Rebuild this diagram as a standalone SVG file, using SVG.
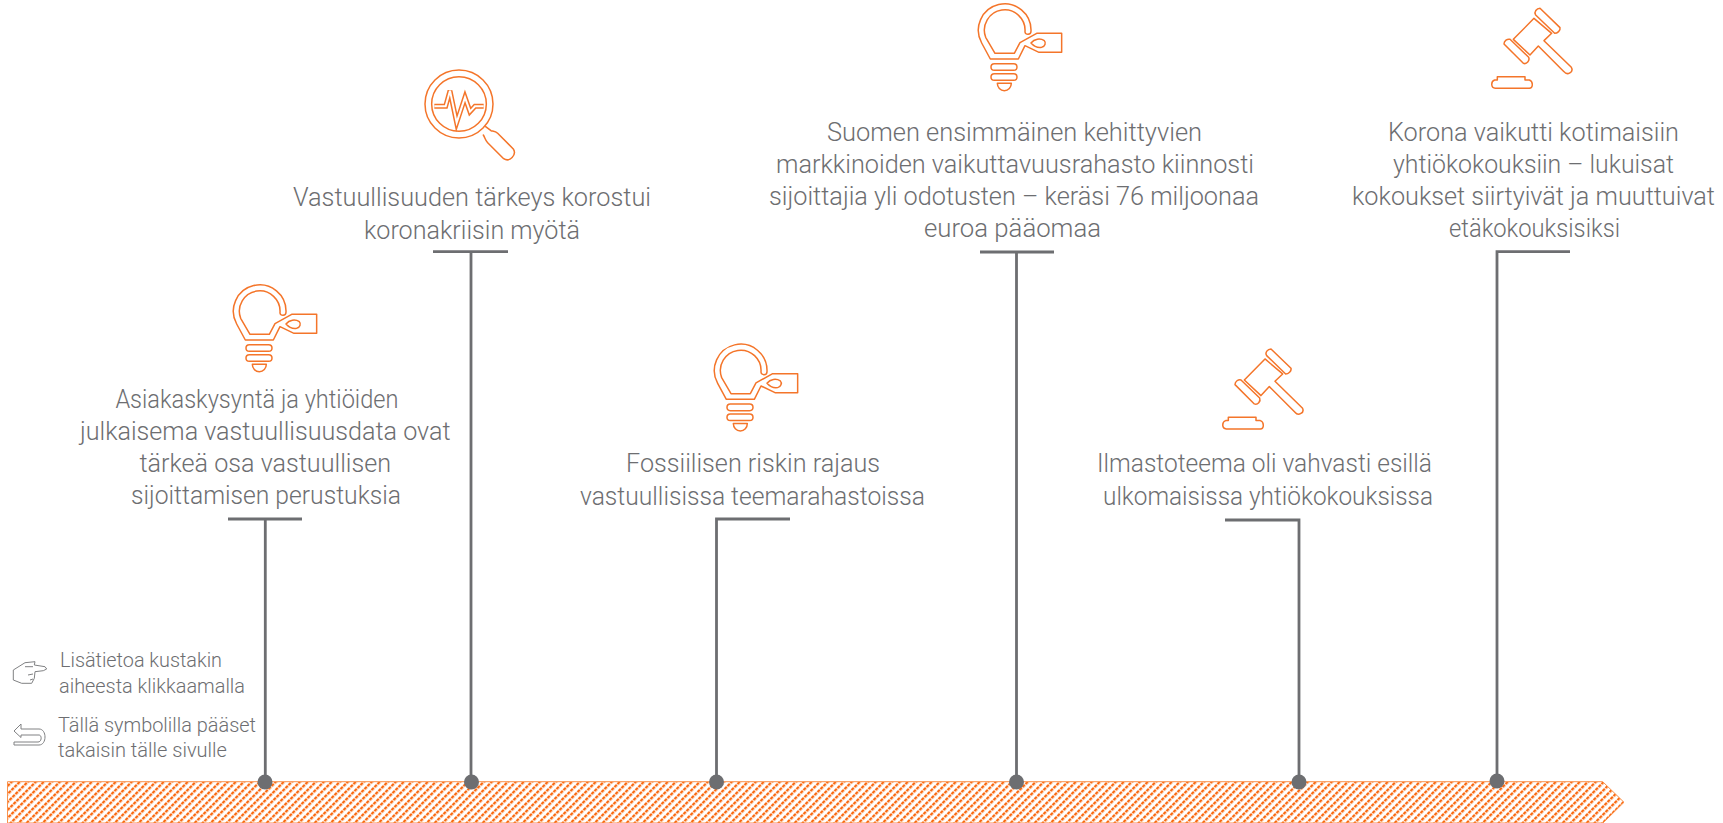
<svg xmlns="http://www.w3.org/2000/svg" xmlns:xlink="http://www.w3.org/1999/xlink" width="1723" height="823" viewBox="0 0 1723 823">
<style>
text{font-family:"Roboto","Open Sans","Liberation Sans",sans-serif;font-weight:300;fill:#6d6e71}
.t{font-size:26px}
.s{font-size:19.500px}
.ico{fill:none;stroke:#f4752a;stroke-width:4.500;stroke-linejoin:round;stroke-linecap:round}
.ln{fill:none;stroke:#6d6e71;stroke-width:2.800}
.dot{fill:#6d6e71}
.hint{fill:none;stroke:#808183;stroke-width:1}
</style>
<defs>
<pattern id="hatch" width="5.657" height="4.243" patternUnits="userSpaceOnUse" patternTransform="rotate(45)">
<rect width="5.657" height="4.243" fill="#fff"/><rect width="2.300" height="3.300" fill="#f96a12"/>
</pattern>
<g id="bulb" class="ico">
<path d="M180 113A61 61 0 1 0 62 130L90 178H148L165 146L215 118H290V175H222L180 155L160 195H76L50 147A79 79 0 1 1 198 112C198 124 180 124 180 113Z"/>
<path d="M198 147C208 134 226 132 238 140C244 146 240 158 230 160C218 162 206 156 198 147Z"/>
<rect x="78" y="209" width="78" height="20" rx="10"/>
<rect x="78" y="239" width="78" height="20" rx="10"/>
<path d="M97 268H139C139 280 130 290 118 290C106 290 97 280 97 268Z"/>
</g>
<g id="gavel" class="ico">
<path d="M162 55L100 118L150 165L175 138L252 215C262 228 282 216 274 202L192 122L215 100Z"/>
<path d="M180 25L240 83C242 92 232 100 224 100L167 45C161 36 170 25 180 25Z"/>
<path d="M90 118L146 172C150 182 140 194 130 190L72 132C72 122 82 116 90 118Z"/>
<path d="M52 230H135V240H148C160 244 160 264 148 265H46C32 264 32 244 44 240H52Z"/>
</g>
</defs>
<g id="band"><path d="M7.500 781.700H1602.700L1624 802.300L1603 823H7.500Z" fill="url(#hatch)" stroke="#f9924d" stroke-width="1"/></g>
<g id="connectors">
<path class="ln" d="M228 519H302M265.300 519V782"/>
<path class="ln" d="M433 251.600H508M471 251.600V782"/>
<path class="ln" d="M790 519H716.500V782"/>
<path class="ln" d="M980 252H1054M1016.500 252V782"/>
<path class="ln" d="M1225 520H1299V782"/>
<path class="ln" d="M1570 251.600H1497V781"/>
<circle class="dot" cx="265" cy="782" r="7.500"/>
<circle class="dot" cx="471.500" cy="782" r="7.500"/>
<circle class="dot" cx="716.500" cy="782" r="7.500"/>
<circle class="dot" cx="1016.500" cy="782" r="7.500"/>
<circle class="dot" cx="1299" cy="782" r="7.500"/>
<circle class="dot" cx="1497" cy="781" r="7.500"/>
</g>
<g id="node1">
<use xlink:href="#bulb" href="#bulb" transform="translate(220 275) scale(.3333)"/>
<text class="t" x="115.400" y="408" textLength="283" lengthAdjust="spacingAndGlyphs">Asiakaskysyntä ja yhtiöiden</text>
<text class="t" x="80" y="440" textLength="370.500" lengthAdjust="spacingAndGlyphs">julkaisema vastuullisuusdata ovat</text>
<text class="t" x="139.500" y="472" textLength="251.500" lengthAdjust="spacingAndGlyphs">tärkeä osa vastuullisen</text>
<text class="t" x="131" y="504" textLength="270" lengthAdjust="spacingAndGlyphs">sijoittamisen perustuksia</text>
</g>
<g id="node2">
<g class="ico" transform="translate(415 60) scale(.3333)">
<circle cx="132" cy="132" r="102"/><circle cx="132" cy="132" r="82"/>
<path d="M212 200L228 212C236 214 242 214 248 220L295 267C306 284 284 308 266 296L218 248C210 240 210 232 205 225"/>
<path style="stroke-width:15;stroke-linejoin:miter;stroke-linecap:butt" d="M58 139H92L105 92L125 188L150 112L165 155L180 139H206"/>
<path style="stroke:#fff;stroke-width:6;stroke-linejoin:miter;stroke-linecap:butt" d="M58 139H92L105 92L125 188L150 112L165 155L180 139H206"/>
</g>
<text class="t" x="293" y="206" textLength="358" lengthAdjust="spacingAndGlyphs">Vastuullisuuden tärkeys korostui</text>
<text class="t" x="364" y="239" textLength="216" lengthAdjust="spacingAndGlyphs">koronakriisin myötä</text>
</g>
<g id="node3">
<use xlink:href="#bulb" href="#bulb" transform="translate(701 334.300) scale(.3333)"/>
<text class="t" x="626" y="472" textLength="254" lengthAdjust="spacingAndGlyphs">Fossiilisen riskin rajaus</text>
<text class="t" x="580" y="505" textLength="345" lengthAdjust="spacingAndGlyphs">vastuullisissa teemarahastoissa</text>
</g>
<g id="node4">
<use xlink:href="#bulb" href="#bulb" transform="translate(965 -6) scale(.3333)"/>
<text class="t" x="827" y="141" textLength="375" lengthAdjust="spacingAndGlyphs">Suomen ensimmäinen kehittyvien</text>
<text class="t" x="776" y="173" textLength="478" lengthAdjust="spacingAndGlyphs">markkinoiden vaikuttavuusrahasto kiinnosti</text>
<text class="t" x="769" y="205" textLength="490" lengthAdjust="spacingAndGlyphs">sijoittajia yli odotusten – keräsi 76 miljoonaa</text>
<text class="t" x="924" y="237" textLength="177" lengthAdjust="spacingAndGlyphs">euroa pääomaa</text>
</g>
<g id="node5">
<use xlink:href="#gavel" href="#gavel" transform="translate(1211 340.600) scale(.3333)"/>
<text class="t" x="1097" y="472" textLength="335" lengthAdjust="spacingAndGlyphs">Ilmastoteema oli vahvasti esillä</text>
<text class="t" x="1103" y="505" textLength="330" lengthAdjust="spacingAndGlyphs">ulkomaisissa yhtiökokouksissa</text>
</g>
<g id="node6">
<use xlink:href="#gavel" href="#gavel" transform="translate(1480 0) scale(.3333)"/>
<text class="t" x="1388" y="141" textLength="291" lengthAdjust="spacingAndGlyphs">Korona vaikutti kotimaisiin</text>
<text class="t" x="1393" y="173" textLength="281" lengthAdjust="spacingAndGlyphs">yhtiökokouksiin – lukuisat</text>
<text class="t" x="1352" y="205" textLength="363" lengthAdjust="spacingAndGlyphs">kokoukset siirtyivät ja muuttuivat</text>
<text class="t" x="1449" y="237" textLength="171" lengthAdjust="spacingAndGlyphs">etäkokouksisiksi</text>
</g>
<g id="legend">
<path class="hint" d="M13.300 670L25 662.700L35 661.700L34.300 665L45 666.700L46.700 669L43.300 670.700L35 671.700L34.300 678.300L31.700 683.300H21.700L13.300 680Z"/>
<path class="hint" d="M25 666.700H33M28 675L33 674M30 680L33 679"/>
<path class="hint" d="M21 724L14 731L21 737.500V735H39C42 735 42 742 38 742H14V745H39C47 745 47 729 39 729H21Z"/>
<text class="s" x="60" y="667" textLength="162" lengthAdjust="spacingAndGlyphs">Lisätietoa kustakin</text>
<text class="s" x="59" y="692.500" textLength="186" lengthAdjust="spacingAndGlyphs">aiheesta klikkaamalla</text>
<text class="s" x="58" y="731.500" textLength="198" lengthAdjust="spacingAndGlyphs">Tällä symbolilla pääset</text>
<text class="s" x="58" y="756.500" textLength="169" lengthAdjust="spacingAndGlyphs">takaisin tälle sivulle</text>
</g>
</svg>
